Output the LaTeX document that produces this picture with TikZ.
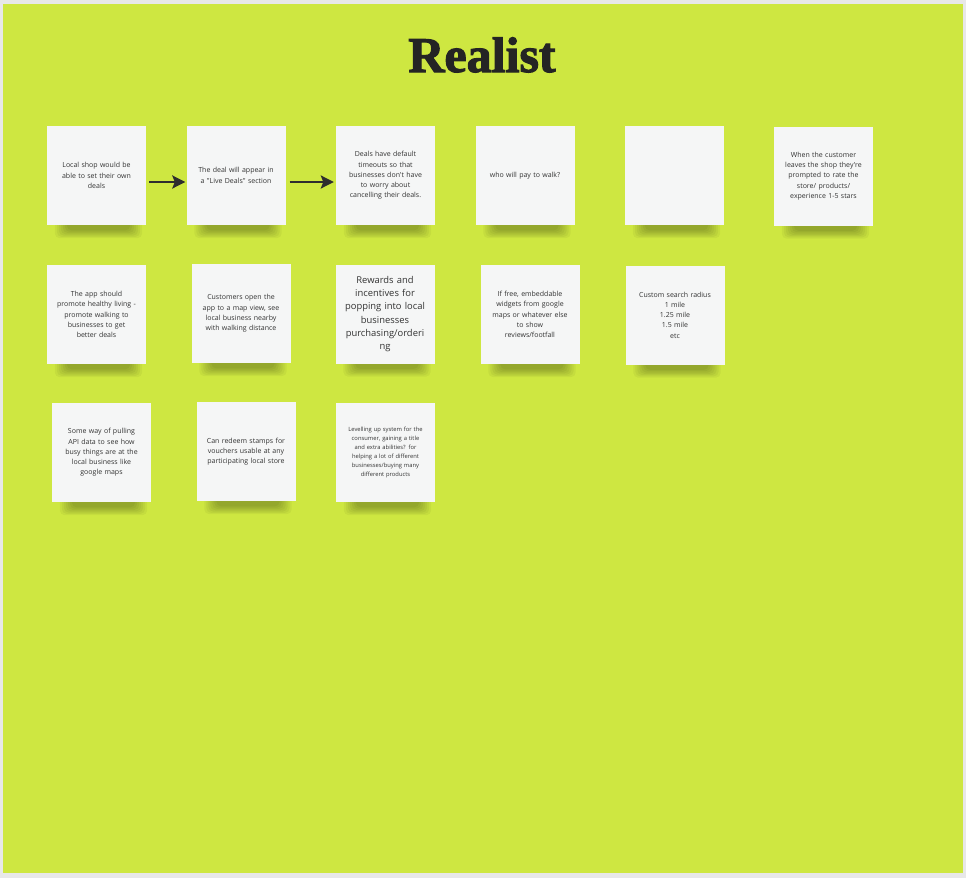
\documentclass[tikz,border=0pt]{standalone}
\usepackage{fontspec}
\usetikzlibrary{arrows.meta,calc,backgrounds}

\newfontfamily\notefont{Open Sans}
\newfontfamily\titlefont{Liberation Serif Bold}[FakeBold=2.2]

\definecolor{boardgreen}{RGB}{206,231,65}
\definecolor{notepaper}{RGB}{245,246,246}
\definecolor{noteink}{RGB}{51,51,51}
\definecolor{framegray}{RGB}{232,232,232}

% soft shadow under a sticky note
\newcommand{\noteshadow}[1]{%
  \foreach \i in {0,...,6}
    \fill[black,opacity=.045,rounded corners=5pt]
      ($(#1.south west)+(8+2*\i,-4)$) rectangle ($(#1.south east)+(-4-2*\i,13-1.3*\i)$);
}

\begin{document}
\begin{tikzpicture}[x=1pt,y=-1pt,
    sticky/.style={fill=notepaper,minimum width=99pt,minimum height=99pt,
      text width=92pt,align=center,inner sep=0pt,text=noteink,
      font=\notefont\fontsize{7}{10.3}\selectfont},
    bignote/.style={sticky,font=\notefont\fontsize{9.4}{13.3}\selectfont},
    tinynote/.style={sticky,font=\notefont\fontsize{5.8}{9}\selectfont},
    flow/.style={line width=2.5pt,color=noteink!90!black,
      -{Stealth[length=13pt,width=13pt,inset=2.5pt]}}]
    \useasboundingbox (0,0) rectangle (966,878);

    % Row one
    \node[sticky] (shop) at (96.5,175.5) {Local shop would be\\able to set their own\\deals};
    \node[sticky] (live) at (236,175.5) {The deal will appear in\\a "Live Deals" section};
    \node[sticky] (timeout) at (385.5,175.5) {Deals have default\\timeouts so that\\businesses don't have\\to worry about\\cancelling their deals.};
    \node[sticky] (pay) at (525,175.5) {who will pay to walk?};
    \node[sticky] (blank) at (674.5,175.5) {};
    \node[sticky] (rate) at (823.5,176) {When the customer\\leaves the shop they're\\prompted to rate the\\store/ products/\\experience 1-5 stars};

    % Row two
    \node[sticky] (health) at (96.5,314.5) {The app should\\promote healthy living -\\promote walking to\\businesses to get\\better deals};
    \node[sticky] (mapview) at (241,313.5) {Customers open the\\app to a map view, see\\local business nearby\\with walking distance};
    \node[bignote] (rewards) at (385,314) {Rewards and\\incentives for\\popping into local\\businesses\\purchasing/orderi\\ng};
    \node[sticky] (widgets) at (530,314.5) {If free, embeddable\\widgets from google\\maps or whatever else\\to show\\reviews/footfall};
    \node[sticky] (radius) at (675,315) {Custom search radius\\1 mile\\1.25 mile\\1.5 mile\\etc};

    % Row three
    \node[sticky] (busy) at (101.5,452.5) {Some way of pulling\\API data to see how\\busy things are at the\\local business like\\google maps};
    \node[sticky] (stamps) at (246,451.5) {Can redeem stamps for\\vouchers usable at any\\participating local store};
    \node[tinynote] (levels) at (385.5,452.5) {Levelling up system for the\\consumer, gaining a title\\and extra abilities? for\\helping a lot of different\\businesses/buying many\\different products};

    % Title
    \node[anchor=base,text=noteink!70!black,inner sep=0pt] (title) at (482,72)
      {\titlefont\fontsize{50}{50}\selectfont Realist};

    % Arrows
    \draw[flow] ([yshift=-6.5pt,xshift=3pt]shop.east) -- ([yshift=-6.5pt,xshift=-1pt]live.west);
    \draw[flow] ([yshift=-6.5pt,xshift=4pt]live.east) -- ([yshift=-6.5pt,xshift=-2pt]timeout.west);

    % Board and shadows
    \begin{scope}[on background layer]
      \fill[framegray] (0,0) rectangle (966,878);
      \fill[boardgreen] (3,4) rectangle (963,873);
      \foreach \n in {shop,live,timeout,pay,blank,rate,health,mapview,rewards,widgets,radius,busy,stamps,levels}
        {\noteshadow{\n}}
    \end{scope}
\end{tikzpicture}
\end{document}
